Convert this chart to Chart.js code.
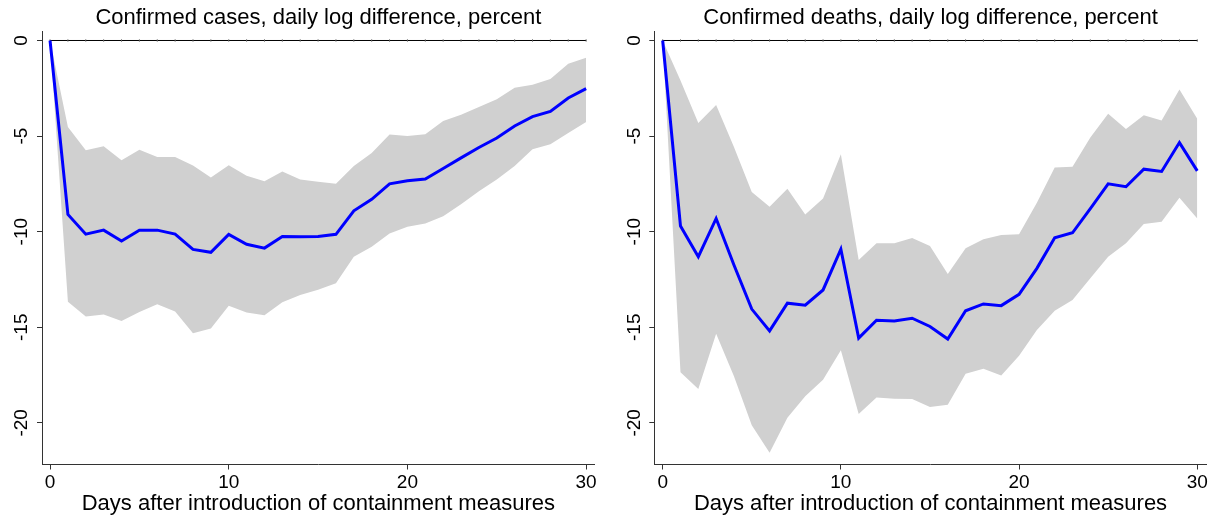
<!DOCTYPE html>
<html>
<head>
<meta charset="utf-8">
<script src="https://cdn.jsdelivr.net/npm/chart.js@4.4.1/dist/chart.umd.min.js"></script>
<style>
  html, body { margin: 0; padding: 0; background: #fff; }
  #wrap { position: relative; width: 1218px; height: 521px; }
  .panel { position: absolute; top: 0; width: 609px; height: 521px; }
</style>
</head>
<body>
<div id="wrap">
  <div class="panel" style="left:0"><canvas id="c1" width="609" height="521"></canvas></div>
  <div class="panel" style="left:609px"><canvas id="c2" width="609" height="521"></canvas></div>
</div>
<script>
// ---- data ----
const days = [0,1,2,3,4,5,6,7,8,9,10,11,12,13,14,15,16,17,18,19,20,21,22,23,24,25,26,27,28,29,30];

const casesIRF   = [0, -9.10, -10.13, -9.92, -10.49, -9.92, -9.92, -10.13, -10.93, -11.08, -10.14, -10.66, -10.86, -10.25, -10.26, -10.25, -10.14, -8.91, -8.31, -7.50, -7.34, -7.25, -6.70, -6.14, -5.60, -5.10, -4.47, -3.98, -3.71, -3.01, -2.52];
const casesUpper = [0, -4.52, -5.74, -5.53, -6.26, -5.72, -6.09, -6.09, -6.54, -7.17, -6.52, -7.08, -7.36, -6.85, -7.27, -7.39, -7.50, -6.56, -5.88, -4.92, -4.99, -4.91, -4.21, -3.88, -3.48, -3.08, -2.47, -2.31, -2.02, -1.22, -0.90];
const casesLower = [0, -13.66, -14.44, -14.33, -14.67, -14.20, -13.80, -14.18, -15.31, -15.07, -13.88, -14.23, -14.37, -13.69, -13.31, -13.04, -12.70, -11.31, -10.79, -10.09, -9.74, -9.57, -9.19, -8.56, -7.88, -7.27, -6.56, -5.69, -5.43, -4.84, -4.26];

const deathsIRF   = [0, -9.71, -11.31, -9.31, -11.74, -14.05, -15.19, -13.74, -13.85, -13.05, -10.92, -15.57, -14.63, -14.67, -14.53, -14.96, -15.62, -14.14, -13.78, -13.87, -13.28, -11.92, -10.32, -10.06, -8.79, -7.50, -7.65, -6.73, -6.85, -5.34, -6.82];
const deathsUpper = [0, -2.09, -4.32, -3.38, -5.57, -7.92, -8.70, -7.76, -9.10, -8.26, -5.95, -11.48, -10.61, -10.61, -10.33, -10.75, -12.21, -10.87, -10.40, -10.18, -10.14, -8.49, -6.65, -6.61, -5.08, -3.83, -4.63, -3.91, -4.18, -2.57, -4.09];
const deathsLower = [0, -17.36, -18.23, -15.34, -17.57, -20.13, -21.57, -19.74, -18.61, -17.75, -16.21, -19.54, -18.67, -18.74, -18.75, -19.17, -19.05, -17.43, -17.17, -17.52, -16.49, -15.14, -14.14, -13.57, -12.44, -11.31, -10.61, -9.60, -9.48, -8.23, -9.31];

const xTicks = [0, 10, 20, 30];
const xTickLabels = ['0', '10', '20', '30'];
const yTicks = [0, -5, -10, -15, -20];
const yTickLabels = ['0', '-5', '-10', '-15', '-20'];

const titles = ['Confirmed cases, daily log difference, percent', 'Confirmed deaths, daily log difference, percent'];
const xTitle = 'Days after introduction of containment measures';

// ---- drawing ----
const FONT = "'Liberation Sans', Arial, Helvetica, sans-serif";
const AXIS = '#333';

function pts(vals) { return days.map((d, i) => ({ x: d, y: vals[i] })); }

function makePanel(id, title, irf, upper, lower, g) {
  new Chart(document.getElementById(id), {
    type: 'line',
    data: {
      datasets: [
        { data: pts(irf), borderColor: '#0000ff', borderWidth: 3, pointRadius: 0, fill: false, order: 0, tension: 0 },
        { data: pts(days.map(() => 0)), borderColor: '#000', borderWidth: 1, pointStyle: 'line', pointRotation: 90,
          pointRadius: 1.1, pointBorderColor: '#555', pointBorderWidth: 1, fill: false, order: 1 },
        { data: pts(upper), borderColor: 'rgba(0,0,0,0)', borderWidth: 0, pointRadius: 0, fill: '+1',
          backgroundColor: '#d0d0d0', order: 2 },
        { data: pts(lower), borderColor: 'rgba(0,0,0,0)', borderWidth: 0, pointRadius: 0, fill: false, order: 3 }
      ]
    },
    options: {
      responsive: false,
      devicePixelRatio: 1,
      animation: false,
      layout: { padding: { left: 0, right: g.padRight, top: 0, bottom: 0 } },
      plugins: {
        legend: { display: false },
        tooltip: { enabled: false },
        title: {
          display: true, text: title, color: '#000', fullSize: false,
          font: { family: FONT, size: 22, weight: 'normal', lineHeight: 1.2 },
          padding: { top: 5, bottom: 0.3 }
        }
      },
      scales: {
        x: {
          type: 'linear', min: g.xmin, max: g.xmax,
          afterBuildTicks: s => { s.ticks = xTicks.map(v => ({ value: v })); },
          afterFit: s => { s.height = 56.5; },
          ticks: {
            color: '#000', font: { family: FONT, size: 19 }, padding: 2, maxRotation: 0, autoSkip: false,
            callback: v => xTickLabels[xTicks.indexOf(v)]
          },
          grid: { drawOnChartArea: false, drawTicks: true, tickLength: 5, color: AXIS, lineWidth: 1 },
          border: { display: true, color: AXIS, width: 1 },
          title: { display: true, text: xTitle, color: '#000', font: { family: FONT, size: 22, lineHeight: 1.2 },
                   padding: { top: 0, bottom: 3.7 } }
        },
        y: {
          type: 'linear', min: -22.18, max: 0.46,
          afterBuildTicks: s => { s.ticks = yTicks.map(v => ({ value: v })); },
          afterFit: s => { s.width = g.axisW; },
          ticks: {
            color: '#000', font: { family: FONT, size: 19 }, padding: g.yPad, minRotation: 90, maxRotation: 90,
            crossAlign: 'center', autoSkip: false,
            callback: v => yTickLabels[yTicks.indexOf(v)]
          },
          grid: { drawOnChartArea: false, drawTicks: true, tickLength: 5, color: AXIS, lineWidth: 1 },
          border: { display: true, color: AXIS, width: 1 }
        }
      }
    }
  });
}

makePanel('c1', titles[0], casesIRF, casesUpper, casesLower,
  { axisW: 42, padRight: 14.3, xmin: -0.45, xmax: 30.48, yPad: 1.6 });
makePanel('c2', titles[1], deathsIRF, deathsUpper, deathsLower,
  { axisW: 45.3, padRight: 11.3, xmin: -0.47, xmax: 30.53, yPad: 0.6 });
</script>
</body>
</html>
